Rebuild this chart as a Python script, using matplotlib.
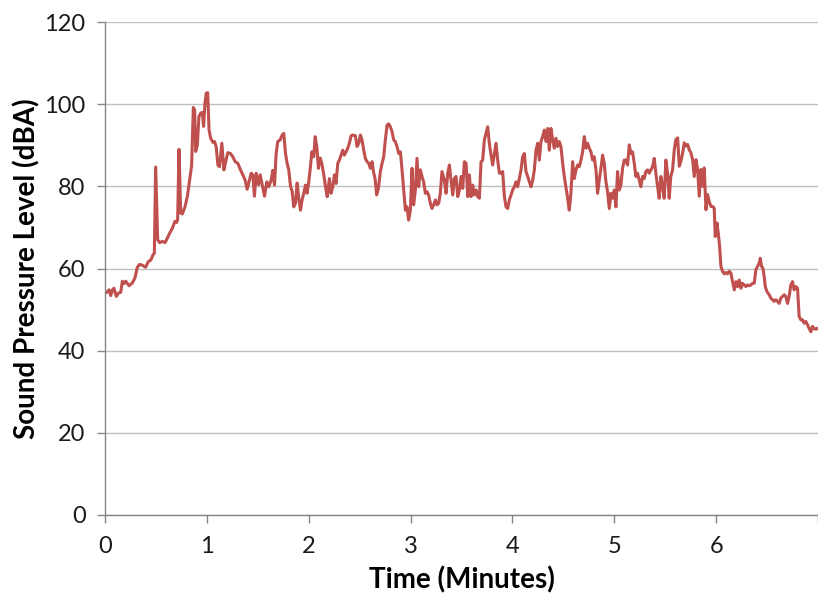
import matplotlib
matplotlib.use("Agg")
import matplotlib.pyplot as plt

# time (minutes) and sound level (dBA)
time_min = [
    0.000, 0.023, 0.039, 0.056, 0.072, 0.088, 0.111, 0.131, 0.154, 0.170,
    0.186, 0.203, 0.236, 0.268, 0.294, 0.317, 0.340, 0.366, 0.399, 0.425,
    0.448, 0.471, 0.484, 0.497, 0.517, 0.536, 0.563, 0.589, 0.612, 0.635,
    0.661, 0.687, 0.703, 0.713, 0.726, 0.743, 0.759, 0.785, 0.808, 0.831,
    0.850, 0.867, 0.880, 0.890, 0.906, 0.922, 0.939, 0.955, 0.968, 0.981,
    0.994, 1.008, 1.021, 1.037, 1.060,
    1.075, 1.091, 1.108, 1.124, 1.147, 1.167, 1.189, 1.206, 1.232, 1.255,
    1.278, 1.304, 1.330, 1.353, 1.376, 1.395, 1.418, 1.435, 1.451, 1.467,
    1.484, 1.507, 1.523, 1.543, 1.566, 1.588, 1.608, 1.631, 1.647, 1.664,
    1.680, 1.696, 1.719, 1.739, 1.755, 1.772, 1.788, 1.804, 1.821, 1.837,
    1.853, 1.870, 1.886, 1.902, 1.919, 1.935, 1.951, 1.968, 1.984, 2.000,
    2.017, 2.030, 2.049, 2.063, 2.079, 2.095, 2.112, 2.128, 2.148, 2.164,
    2.181,
    2.203, 2.219, 2.236, 2.252, 2.268, 2.285, 2.301, 2.317, 2.334, 2.350,
    2.367, 2.383, 2.399, 2.416, 2.432, 2.458, 2.474, 2.491, 2.507, 2.523,
    2.540, 2.556, 2.573, 2.589, 2.605, 2.622, 2.635, 2.651, 2.667, 2.684,
    2.703, 2.720, 2.736, 2.752, 2.769, 2.785, 2.801, 2.818, 2.834, 2.850,
    2.867, 2.883, 2.900, 2.916, 2.932, 2.949, 2.965, 2.981, 2.998, 3.014,
    3.030, 3.047, 3.063, 3.079, 3.096, 3.112, 3.128, 3.145, 3.161, 3.177,
    3.194, 3.210, 3.227, 3.243, 3.259, 3.276, 3.292, 3.308,
    3.332, 3.348, 3.365, 3.381, 3.397, 3.414, 3.430, 3.446, 3.463, 3.479,
    3.496, 3.512, 3.528, 3.545, 3.561, 3.577, 3.594, 3.610, 3.626, 3.643,
    3.659, 3.675, 3.692, 3.708, 3.724, 3.741, 3.757, 3.773, 3.790, 3.806,
    3.823, 3.839, 3.855, 3.872, 3.888, 3.904, 3.921, 3.937, 3.953, 3.970,
    3.986, 4.002, 4.019, 4.035, 4.051, 4.068, 4.084, 4.100, 4.117, 4.133,
    4.150, 4.166, 4.182, 4.199, 4.215, 4.231, 4.248, 4.264, 4.280, 4.297,
    4.313, 4.329, 4.346, 4.362, 4.378, 4.395, 4.411, 4.427, 4.444,
    4.460, 4.476, 4.493, 4.509, 4.525, 4.542, 4.558, 4.574, 4.591, 4.607,
    4.624, 4.640, 4.656, 4.673, 4.689, 4.705, 4.722, 4.738, 4.754, 4.771,
    4.787, 4.803, 4.820, 4.836, 4.852, 4.869, 4.885, 4.901, 4.918, 4.934,
    4.951, 4.967, 4.983, 5.000, 5.016, 5.032, 5.049, 5.065, 5.081, 5.098,
    5.114, 5.130, 5.147, 5.163, 5.179, 5.196, 5.212, 5.228, 5.245, 5.261,
    5.278, 5.294, 5.310, 5.327, 5.343, 5.359, 5.376, 5.392, 5.408, 5.425,
    5.441, 5.457, 5.474, 5.490, 5.506, 5.523, 5.539, 5.555, 5.572,
    5.589, 5.605, 5.622, 5.638, 5.654, 5.671, 5.687, 5.703, 5.720, 5.736,
    5.753, 5.769, 5.785, 5.802, 5.818, 5.834, 5.851, 5.867, 5.883, 5.900,
    5.916, 5.932, 5.949, 5.965, 5.981, 5.991, 6.008, 6.021, 6.034, 6.047,
    6.063, 6.080, 6.096, 6.112, 6.129, 6.145, 6.161, 6.178, 6.194, 6.210,
    6.227, 6.243, 6.259, 6.276, 6.292, 6.308, 6.325, 6.341, 6.357, 6.374,
    6.390, 6.407, 6.423, 6.433, 6.446, 6.459, 6.472, 6.482, 6.498, 6.521,
    6.537, 6.554, 6.570, 6.586, 6.603, 6.619, 6.635, 6.652, 6.668, 6.684,
    6.701, 6.717, 6.733, 6.750, 6.766, 6.783, 6.799, 6.815, 6.832, 6.848,
    6.864, 6.881, 6.897, 6.913, 6.930, 6.946, 6.962, 6.979, 6.992,
]

spl_dba = [
    54.0, 54.3, 54.8, 53.4, 54.8, 55.2, 53.2, 54.0, 54.2, 56.9,
    56.3, 56.9, 55.8, 56.5, 57.7, 60.3, 61.0, 60.8, 60.3, 61.7,
    62.0, 63.3, 63.7, 84.7, 67.0, 66.3, 66.6, 66.3, 67.4, 68.6,
    69.8, 71.5, 71.2, 71.9, 89.0, 73.5, 73.3, 75.0, 77.5, 81.6,
    85.0, 99.2, 98.6, 88.5, 90.0, 97.0, 97.8, 98.0, 94.6, 100.2,
    102.7, 102.8, 93.8, 91.7, 90.7,
    90.9, 89.7, 85.2, 84.8, 90.5, 84.0, 86.5, 88.2, 88.0, 87.2,
    86.0, 85.6, 84.0, 82.8, 81.5, 79.3, 81.5, 83.2, 82.8, 77.6,
    83.2, 80.4, 82.8, 80.4, 77.6, 81.1, 79.9, 81.5, 83.9, 80.3,
    88.0, 90.9, 91.3, 92.5, 92.9, 88.0, 85.6, 84.0, 80.0, 78.8,
    75.0, 75.9, 80.8, 77.1, 74.2, 76.7, 78.3, 80.3, 78.3, 81.1,
    84.8, 88.4, 87.2, 92.1, 89.7, 84.4, 86.9, 85.6, 82.8, 80.0,
    77.5,
    81.9, 78.3, 79.9, 82.8, 80.7, 85.6, 86.4, 87.6, 88.8, 87.6,
    88.4, 89.3, 90.5, 92.3, 92.5, 92.3, 89.7, 90.5, 92.5, 91.3,
    88.8, 86.8, 86.0, 85.6, 84.4, 86.0, 83.6, 81.9, 77.9, 79.5,
    83.6, 85.6, 87.2, 91.3, 94.9, 95.2, 94.5, 93.3, 91.3, 90.9,
    89.7, 88.0, 88.4, 84.0, 79.1, 74.2, 75.0, 71.8, 74.2, 84.4,
    75.5, 79.1, 86.8, 79.9, 84.0, 82.4, 81.1, 78.3, 78.7, 77.9,
    75.9, 74.6, 75.5, 76.7, 75.5, 75.9, 78.3, 83.6,
    81.5, 78.3, 83.2, 85.2, 81.5, 77.9, 81.9, 82.4, 77.5, 79.1,
    82.4, 79.5, 86.0, 85.6, 77.5, 82.8, 77.5, 80.3, 77.9, 79.1,
    77.5, 77.1, 86.0, 86.4, 91.3, 92.9, 94.5, 90.5, 87.6, 85.2,
    88.0, 90.5, 86.4, 83.2, 83.2, 83.6, 77.5, 75.0, 74.6, 76.7,
    77.9, 79.1, 79.9, 81.1, 79.9, 81.9, 84.0, 87.2, 88.0, 83.6,
    82.4, 81.1, 79.9, 81.5, 84.0, 88.8, 90.5, 86.4, 90.9, 92.1,
    93.7, 90.9, 94.1, 88.8, 94.1, 91.3, 89.3, 91.7, 89.7,
    90.9, 89.7, 85.6, 82.4, 79.9, 77.1, 74.2, 78.3, 86.0, 81.9,
    84.0, 85.2, 84.8, 86.4, 88.4, 92.1, 89.3, 90.5, 89.3, 88.4,
    86.4, 87.2, 84.0, 78.3, 81.5, 84.4, 87.6, 85.6, 81.1, 78.7,
    74.6, 78.3, 77.1, 79.1, 75.0, 83.6, 79.1, 80.3, 84.4, 86.4,
    86.4, 85.2, 90.1, 88.0, 88.4, 85.6, 82.4, 83.2, 81.5, 79.9,
    82.4, 81.9, 83.6, 84.0, 83.2, 84.0, 84.8, 86.8, 83.2, 79.9,
    77.1, 82.4, 79.9, 77.1, 86.4, 83.2, 77.1, 82.4, 84.0,
    88.9, 91.4, 91.8, 84.9, 86.1, 88.1, 90.6, 89.8, 90.2, 88.9,
    88.1, 86.5, 82.4, 86.5, 84.1, 77.6, 84.1, 80.0, 84.5, 74.3,
    78.0, 76.3, 75.1, 75.1, 74.7, 67.8, 71.1, 68.6, 65.4, 60.5,
    59.3, 58.7, 59.0, 58.7, 59.3, 58.9, 56.8, 54.8, 56.8, 55.6,
    57.2, 55.2, 56.4, 56.0, 55.6, 56.0, 55.8, 56.0, 56.4, 56.4,
    59.7, 60.5, 61.3, 62.5, 60.5, 60.1, 58.0, 55.6, 54.4, 53.6,
    52.8, 52.4, 52.0, 52.4, 52.0, 51.5, 52.8, 53.2, 53.6, 53.2,
    51.5, 53.2, 56.0, 56.8, 54.8, 55.6, 55.2, 48.3, 47.5, 47.5,
    46.7, 47.1, 46.3, 45.4, 44.6, 45.9, 45.4, 45.2, 45.4,
]

x_ticks = [0, 1, 2, 3, 4, 5, 6, 7]
x_tick_labels = ["0", "1", "2", "3", "4", "5", "6", ""]
y_ticks = [0, 20, 40, 60, 80, 100, 120]

plt.rcParams['font.family'] = ['Lato', 'DejaVu Sans']

fig = plt.figure(figsize=(8.18, 5.97), dpi=100)
ax = fig.add_axes([0.1284, 0.1374, 0.8716, 0.8257])

ax.plot(time_min, spl_dba, color="#C0504D", linewidth=2.2, solid_joinstyle="round")

ax.set_xlim(0, 7)
ax.set_ylim(0, 120)
ax.set_xticks(x_ticks)
ax.set_xticklabels(x_tick_labels)
ax.set_yticks(y_ticks)

# Excel-like look
ax.grid(axis="y", color="#BFBFBF", linewidth=1.0)
ax.set_axisbelow(True)
for side in ["top", "right"]:
    ax.spines[side].set_visible(False)
for side in ["left", "bottom"]:
    ax.spines[side].set_color("#868686")
    ax.spines[side].set_linewidth(1.0)
ax.tick_params(axis="both", colors="#868686", labelcolor="#1a1a1a", labelsize=17,
               length=6, width=1.0, direction="out")
ax.tick_params(axis="x", pad=9)
ax.tick_params(axis="y", pad=8)

ax.set_xlabel("Time (Minutes)", fontsize=20, fontweight="bold", labelpad=7)
ax.set_ylabel("Sound Pressure Level (dBA)", fontsize=20, fontweight="bold", labelpad=3)

fig.savefig("out.png", dpi=100)
